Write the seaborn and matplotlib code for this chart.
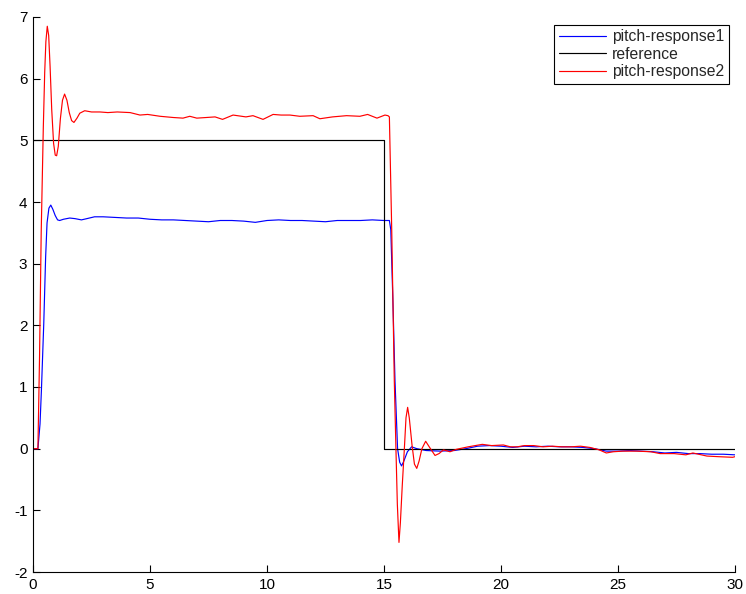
import numpy as np
import pandas as pd
import matplotlib
matplotlib.use("Agg")
import matplotlib.pyplot as plt
import seaborn as sns

# ---- data ----
t_resp1 = [0, 0.21, 0.30, 0.36, 0.46, 0.54, 0.60, 0.68, 0.76, 0.85, 0.95, 1.05, 1.14, 1.3, 1.57,
           1.8, 2.07, 2.3, 2.63, 3.0, 3.5, 4.0, 4.5, 5.0, 5.5, 6.0, 6.5, 7.0, 7.5, 8.0, 8.5,
           9.0, 9.5, 10.0, 10.5, 11.0, 11.5, 12.0, 12.5, 13.0, 13.5, 14.0, 14.5, 15.0, 15.23,
           15.29, 15.38, 15.47, 15.58, 15.67, 15.75, 15.85, 16.0, 16.18, 16.4, 16.8, 17.4, 18.0,
           18.5, 19.0, 19.5, 20.0, 20.5, 21.0, 21.5, 22.0, 22.5, 23.0, 23.5, 24.0, 24.5, 25.0,
           25.5, 26.0, 26.5, 27.0, 27.5, 28.0, 28.5, 29.0, 29.5, 30.0]
y_resp1 = [0, 0, 0.4, 0.95, 2.03, 3.11, 3.66, 3.90, 3.95, 3.88, 3.78, 3.71, 3.70, 3.72, 3.74,
           3.73, 3.71, 3.73, 3.76, 3.76, 3.75, 3.74, 3.74, 3.72, 3.71, 3.71, 3.70, 3.69, 3.68, 3.70, 3.70,
           3.69, 3.67, 3.70, 3.71, 3.70, 3.70, 3.69, 3.68, 3.70, 3.70, 3.70, 3.71, 3.70, 3.70,
           3.55, 2.4, 1.1, 0.0, -0.22, -0.28, -0.20, -0.05, 0.03, 0.0, -0.03, -0.04, -0.03,
           0.0, 0.04, 0.05, 0.04, 0.02, 0.04, 0.03, 0.04, 0.03, 0.03, 0.02, 0.0, -0.04, -0.04,
           -0.03, -0.04, -0.05, -0.07, -0.06, -0.08, -0.08, -0.09, -0.09, -0.10]

t_ref = [0, 15, 15, 30]
y_ref = [5, 5, 0, 0]

t_resp2 = [0, 0.21, 0.28, 0.35, 0.44, 0.50, 0.55, 0.61, 0.67, 0.73, 0.80, 0.88, 0.95, 1.01, 1.08,
           1.17, 1.26, 1.35, 1.45, 1.55, 1.65, 1.75, 1.88, 2.0, 2.21, 2.5, 2.86, 3.2, 3.6, 4.15,
           4.57, 4.9, 5.43, 6.0, 6.41, 6.7, 7.0, 7.4, 7.78, 8.1, 8.55, 9.1, 9.4, 9.83, 10.26,
           10.6, 10.98, 11.4, 11.97, 12.26, 12.8, 13.4, 13.97, 14.3, 14.7, 15.04, 15.17, 15.23,
           15.33, 15.44, 15.51, 15.57, 15.64, 15.70, 15.78, 15.87, 15.94, 16.01, 16.08, 16.2,
           16.30, 16.40, 16.50, 16.62, 16.78, 16.95, 17.18, 17.35, 17.54, 17.82, 18.1, 18.6,
           19.2, 19.6, 20.1, 20.4, 20.7, 21.0, 21.4, 21.8, 22.2, 22.6, 23.0, 23.4, 23.8, 24.2,
           24.5, 24.8, 25.2, 25.8, 26.4, 26.8, 27.4, 27.9, 28.2, 28.8, 29.3, 29.9, 30.0]
y_resp2 = [0, 0, 1.5, 3.5, 5.2, 6.1, 6.6, 6.85, 6.7, 6.2, 5.5, 4.95, 4.76, 4.75, 4.9,
           5.35, 5.65, 5.75, 5.65, 5.45, 5.32, 5.29, 5.36, 5.44, 5.48, 5.46, 5.46, 5.45, 5.46, 5.45,
           5.41, 5.42, 5.39, 5.37, 5.36, 5.39, 5.36, 5.37, 5.38, 5.34, 5.41, 5.38, 5.40, 5.34, 5.42,
           5.41, 5.41, 5.39, 5.40, 5.35, 5.38, 5.40, 5.39, 5.42, 5.36, 5.41, 5.40, 5.38,
           3.55, 1.1, 0.0, -0.9, -1.52, -1.2, -0.6, 0.0, 0.5, 0.67, 0.5, 0.05,
           -0.25, -0.32, -0.2, 0.0, 0.12, 0.02, -0.11, -0.08, -0.02, -0.05, -0.01, 0.03,
           0.07, 0.05, 0.06, 0.03, 0.03, 0.05, 0.05, 0.03, 0.04, 0.03, 0.03, 0.04, 0.02, -0.02,
           -0.07, -0.05, -0.04, -0.04, -0.05, -0.08, -0.08, -0.10, -0.07, -0.12, -0.13, -0.14, -0.13]

x_ticks = [0, 5, 10, 15, 20, 25, 30]
y_ticks = [-2, -1, 0, 1, 2, 3, 4, 5, 6, 7]

# ---- plotting ----
sns.set_style("ticks")
plt.rcParams['font.family'] = ['Liberation Sans', 'DejaVu Sans']

fig = plt.figure(figsize=(7.46, 5.94), dpi=100)
ax = fig.add_axes([33 / 746, 22 / 594, 702 / 746, 555 / 594])

lw = 0.85
sns.lineplot(x=t_resp1, y=y_resp1, color='#0000ff', lw=lw, label='pitch-response1',
             estimator=None, sort=False, ax=ax)
sns.lineplot(x=t_ref, y=y_ref, color='black', lw=lw, label='reference',
             estimator=None, sort=False, ax=ax)
sns.lineplot(x=t_resp2, y=y_resp2, color='#ff0000', lw=lw, label='pitch-response2',
             estimator=None, sort=False, ax=ax)

ax.set_xlim(0, 30)
ax.set_ylim(-2, 7)
ax.set_xticks(x_ticks)
ax.set_yticks(y_ticks)
ax.set_xticklabels([str(v) for v in x_ticks])
ax.set_yticklabels([str(v) for v in y_ticks])
ax.tick_params(direction='in', length=5, width=0.8, labelsize=11, colors='black', pad=4)
for s in ['top', 'right']:
    ax.spines[s].set_visible(False)
for s in ['left', 'bottom']:
    ax.spines[s].set_color('black')
    ax.spines[s].set_linewidth(0.8)
ax.set_xlabel('')
ax.set_ylabel('')

leg = ax.legend(loc='upper right', bbox_to_anchor=(0.9915, 0.986), frameon=True,
                fancybox=False, edgecolor='black', framealpha=1, borderaxespad=0,
                handlelength=3.0, handletextpad=0.4, labelspacing=0.15, fontsize=11.3,
                borderpad=0.3)
leg.get_frame().set_linewidth(0.8)
for line in leg.get_lines():
    line.set_linewidth(lw)

fig.savefig('out.png', dpi=100)
